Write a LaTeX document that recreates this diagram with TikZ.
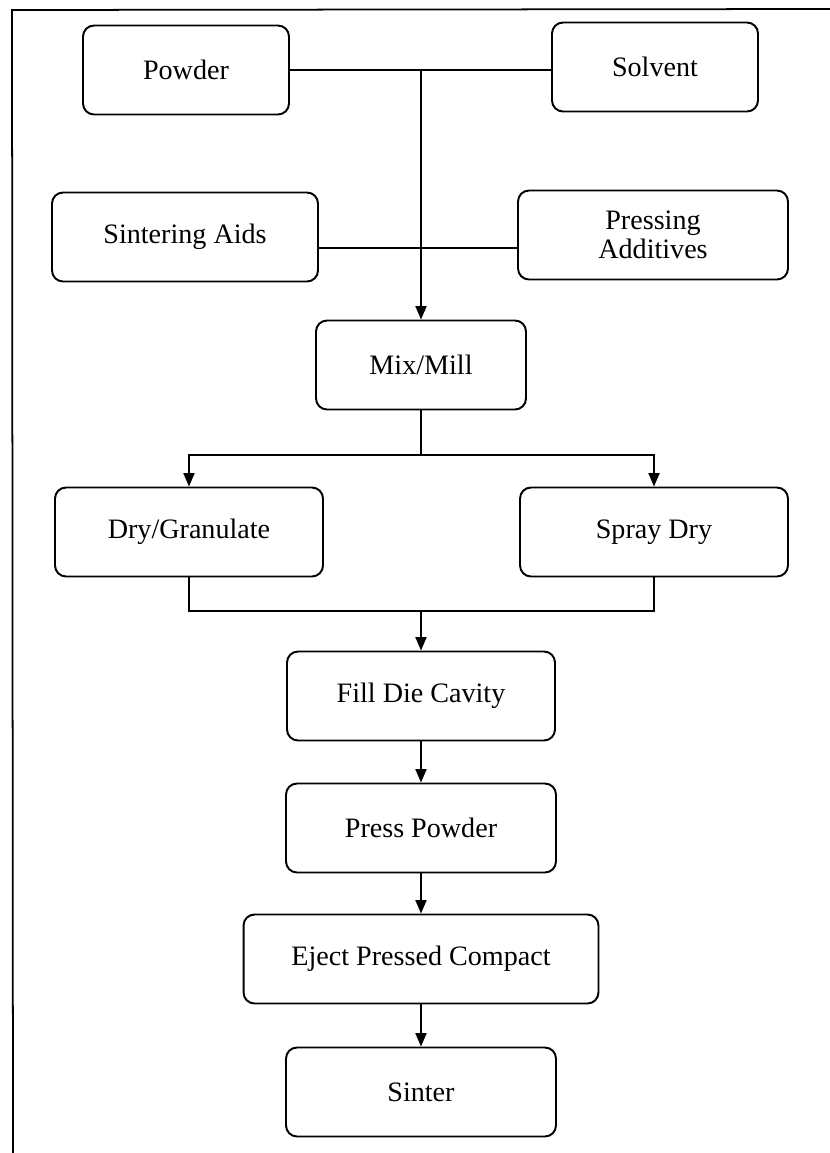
\documentclass[tikz,border=0pt]{standalone}
\usepackage{fontspec}
\setmainfont{Liberation Serif}
\usetikzlibrary{arrows.meta}

\tikzset{
  stage/.style={draw, line width=1.1pt, rounded corners=0.22cm, minimum height=1.78cm,
    align=center, inner sep=2pt, font=\fontsize{16}{16.5}\selectfont},
  flow/.style={line width=1.1pt, -{Triangle[length=0.27cm,width=0.22cm]}},
  link/.style={line width=1.1pt}
}

\begin{document}
\begin{tikzpicture}[x=0.02cm, y=-0.02cm]
% Page size and the frame lines of the scan
\useasboundingbox (0,0) rectangle (830,1153);
\draw[line width=1pt] (830,9) -- (12,10) -- (13,1153);

% Input materials
\node[stage, minimum width=4.12cm] (powder) at (186,70) {Powder};
\node[stage, minimum width=4.12cm] (solvent) at (655,67) {Solvent};
\node[stage, minimum width=5.32cm] (sintaids) at (185,237) {Sintering Aids};
\node[stage, minimum width=5.4cm] (pressadd) at (653,235) {Pressing\\Additives};

% Process steps
\node[stage, minimum width=4.2cm] (mixmill) at (421,365) {Mix/Mill};
\node[stage, minimum width=5.36cm] (drygran) at (189,532) {Dry/Granulate};
\node[stage, minimum width=5.36cm] (spraydry) at (654,532) {Spray Dry};
\node[stage, minimum width=5.36cm] (filldie) at (421,696) {Fill Die Cavity};
\node[stage, minimum width=5.4cm] (presspow) at (421,828) {Press Powder};
\node[stage, minimum width=7.1cm] (eject) at (421,959) {Eject Pressed Compact};
\node[stage, minimum width=5.4cm] (sinter) at (421,1092) {Sinter};

% Junction points
\coordinate (top) at (421,70);
\coordinate (cross) at (421,248);
\coordinate (split) at (421,455);
\coordinate (merge) at (421,611);

% Connectors
\draw[link] (powder.east |- top) -- (solvent.west |- top);
\draw[link] (sintaids.east |- cross) -- (pressadd.west |- cross);
\draw[flow] (top) -- (mixmill.north);
\draw[link] (mixmill.south) -- (split);
\draw[flow] (split) -| (drygran.north);
\draw[flow] (split) -| (spraydry.north);
\draw[link] (drygran.south) |- (merge) -| (spraydry.south);
\draw[flow] (merge) -- (filldie.north);
\draw[flow] (filldie) -- (presspow);
\draw[flow] (presspow) -- (eject);
\draw[flow] (eject) -- (sinter);
\end{tikzpicture}
\end{document}
